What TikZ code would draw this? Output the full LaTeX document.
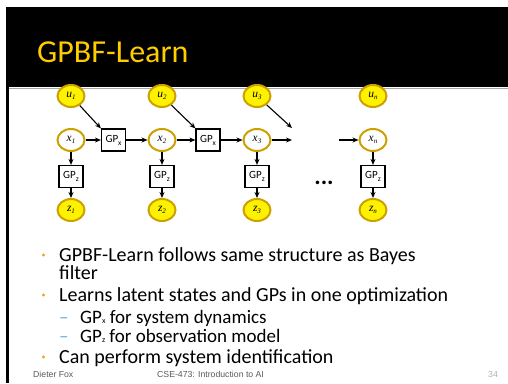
\documentclass[tikz,border=0pt]{standalone}
\usepackage{fontspec}
\setmainfont{Carlito}
\newfontfamily\timesf{Liberation Serif}
\newfontfamily\arialf{Liberation Sans}
\usetikzlibrary{arrows.meta,shapes.geometric}
\definecolor{gold}{RGB}{204,160,0}
\definecolor{titlegold}{RGB}{255,204,0}
\definecolor{bulletorange}{RGB}{240,160,20}
\definecolor{dashblue}{RGB}{110,175,215}
\definecolor{footgray}{RGB}{90,90,90}
\newcommand\myvar[2]{{\timesf\fontsize{11.5}{11.5}\selectfont\itshape #1\raisebox{-2pt}{\fontsize{7}{7}\selectfont #2}}}
\newcommand\mygp[1]{{GP\raisebox{-3pt}{\fontsize{7.5}{7.5}\selectfont #1}}}
\tikzset{
  yel/.style={ellipse, draw=gold, line width=2pt, fill=yellow, minimum width=27pt, minimum height=22pt, inner sep=0pt},
  wht/.style={yel, fill=white},
  gpbox/.style={draw, line width=1.2pt, fill=white, minimum width=24pt, minimum height=22pt, inner sep=0pt, font=\fontsize{11}{11}\selectfont},
  arr/.style={-{Stealth[length=6pt,width=5pt]}, line width=1.1pt},
  bodytext/.style={anchor=base west, inner sep=0pt, font=\fontsize{20}{18}\selectfont},
  subtext/.style={anchor=base west, inner sep=0pt, font=\fontsize{19}{19}\selectfont},
  foot/.style={anchor=base west, inner sep=0pt, text=footgray, font=\arialf\fontsize{8.7}{8.7}\selectfont}
}
\begin{document}
\begin{tikzpicture}[x=1pt,y=-1pt]
\useasboundingbox (0,0) rectangle (508,383);
\fill[white] (0,0) rectangle (508,383);
% header and frame
\fill[black] (6,7) rectangle (508,87);
\fill[black] (6,7) rectangle (9,383);
\draw[gray!70, line width=1pt] (9,88) -- (508,88);
\node[anchor=base west, inner sep=0pt, text=titlegold, font=\fontsize{32}{32}\selectfont] (title) at (37,62) {GPBF-Learn};
% nodes
\node[yel] (u1) at (71,96) {\myvar{u}{1}};
\node[yel] (u2) at (162,96) {\myvar{u}{2}};
\node[yel] (u3) at (257,96) {\myvar{u}{3}};
\node[yel] (un) at (373,96) {\myvar{u}{\itshape n}};
\node[wht] (x1) at (71,140) {\myvar{x}{1}};
\node[wht] (x2) at (162,140) {\myvar{x}{2}};
\node[wht] (x3) at (257,140) {\myvar{x}{3}};
\node[wht] (xn) at (373,140) {\myvar{x}{\itshape n}};
\node[gpbox] (gx1) at (113.5,140) {\mygp{x}};
\node[gpbox] (gx2) at (208,140) {\mygp{x}};
\node[gpbox] (gz1) at (71,176.5) {\mygp{z}};
\node[gpbox] (gz2) at (162,176.5) {\mygp{z}};
\node[gpbox] (gz3) at (257,176.5) {\mygp{z}};
\node[gpbox] (gzn) at (373,176.5) {\mygp{z}};
\node[yel] (z1) at (71,210) {\myvar{z}{1}};
\node[yel] (z2) at (162,210) {\myvar{z}{2}};
\node[yel] (z3) at (257,210) {\myvar{z}{3}};
\node[yel] (zn) at (373,210) {\myvar{z}{\itshape n}};
\node[inner sep=0pt, font=\fontsize{24}{24}\selectfont\bfseries] (dots) at (324,183) {...};
\coordinate (a3) at (292,128);
\coordinate (b3) at (292,140);
\coordinate (cn) at (339,140);
% connectors
\draw[arr] (u1) -- (gx1.north west);
\draw[arr] (u2) -- (gx2.north west);
\draw[arr] (u3) -- (a3);
\draw[arr] (x1) -- (gx1);
\draw[arr] (gx1) -- (x2);
\draw[arr] (x2) -- (gx2);
\draw[arr] (gx2) -- (x3);
\draw[arr] (x3) -- (b3);
\draw[arr] (cn) -- (xn);
\foreach \i in {1,2,3,n}{
  \draw[arr] (x\i) -- (gz\i);
  \draw[arr] (gz\i) -- (z\i);
}
% bullets
\foreach \y/\n in {261/b1,301/b2,363/b3}{
  \node[circle, fill=bulletorange, inner sep=0pt, minimum size=3.2pt] (\n) at (43.5,\y-6) {};
}
\node[bodytext, align=left] (t1) at (59,279) {GPBF-Learn follows same structure as Bayes\\filter};
\node[bodytext] (t2) at (59,301) {Learns latent states and GPs in one optimization};
\node[subtext, text=dashblue] (d1) at (59,323) {--};
\node[subtext] (s1) at (80,323) {GP\raisebox{0pt}{\fontsize{8}{8}\selectfont x} for system dynamics};
\node[subtext, text=dashblue] (d2) at (59,342) {--};
\node[subtext] (s2) at (80,342) {GP\raisebox{0pt}{\fontsize{8}{8}\selectfont z} for observation model};
\node[bodytext] (t3) at (59,363) {Can perform system identification};
\node[foot] (f1) at (33,377) {Dieter Fox};
\node[foot] (f2) at (157,377) {CSE-473: Introduction to AI};
\node[foot, text=gray!60] (f3) at (488,377) {34};
\end{tikzpicture}
\end{document}
